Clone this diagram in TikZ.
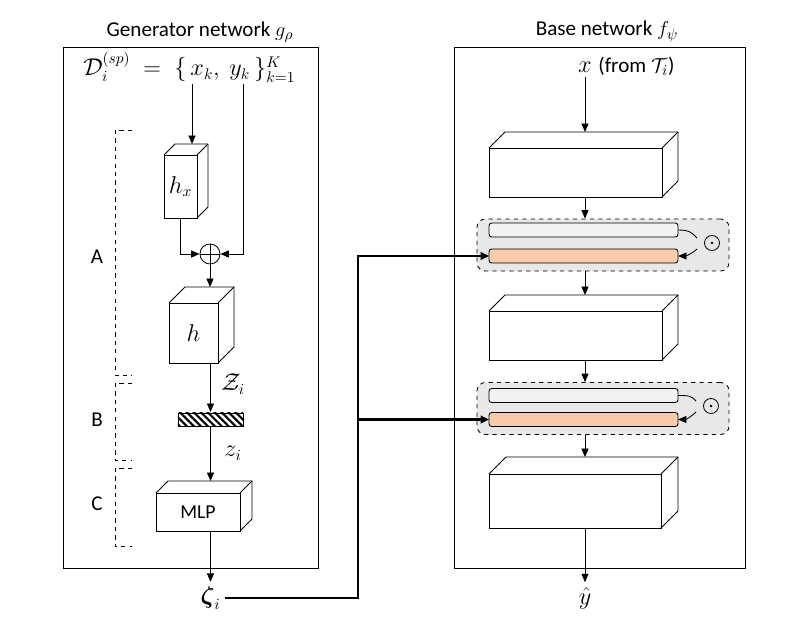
\documentclass[tikz,border=0pt]{standalone}
\usepackage{amsmath, amssymb}
\usepackage[no-math]{fontspec}
\setmainfont{Carlito}
\usetikzlibrary{arrows.meta, calc, patterns.meta, positioning}
\definecolor{peach}{HTML}{F8CBAD}
\definecolor{lightbar}{HTML}{F2F2F2}
\tikzset{
    arr/.style={-{Triangle[length=6pt,width=5pt]}, line width=0.6pt},
    thickarr/.style={-{Triangle[length=6pt,width=5.5pt]}, line width=1.8pt},
    face/.style={draw, line width=0.6pt, inner sep=0pt, outer sep=0pt, fill=white},
    layerbar/.style={draw, line width=0.6pt, rounded corners=2pt, inner sep=0pt, outer sep=0pt,
        minimum width=4.725cm, minimum height=0.35cm},
    filmbox/.style={draw, dashed, line width=0.6pt, rounded corners=6pt, fill=gray!18,
        inner sep=0pt, minimum width=6.3cm, minimum height=1.3cm},
    opcirc/.style={circle, draw, line width=0.6pt, inner sep=0pt},
    lbl/.style={font=\fontsize{15}{18}\selectfont},
    mth/.style={font=\fontsize{16}{19}\selectfont},
}
% depth faces of a box node: #1 node name, #2 depth
\newcommand{\cubeback}[2]{
    \draw[line width=0.6pt, line join=round] (#1.north west) -- ++(#2,-#2) coordinate (#1top)
        -| ($(#1.south east)+(#2,-#2)$) -- (#1.south east);
    \draw[line width=0.6pt] (#1.north east) -- ++(#2,-#2);
}

\begin{document}
\begin{tikzpicture}[x=0.025cm, y=-0.025cm]
\useasboundingbox (0,0) rectangle (785,643);

\draw[line width=0.7pt] (63,47) rectangle (318,568);
\draw[line width=0.7pt] (454,47) rectangle (745,568);
\node[lbl] (gtitle) at (200,32) {Generator network $g_\rho$};
\node[lbl] (btitle) at (607,32) {Base network $f_\psi$};

% generator
\node[mth, anchor=base west, inner sep=0pt] (dsp) at (83,76) {$\mathcal{D}_i^{(sp)}$};
\node[mth, anchor=base west, inner sep=0pt] (eqs) at (143,76) {$=$};
\node[mth, anchor=base west, inner sep=0pt] (xk) at (174,76) {$\{\,x_k,$};
\node[mth, anchor=base west, inner sep=0pt] (yk) at (229,76) {$y_k\,\}_{k=1}^{K}$};
\coordinate (xkpt) at (192,84);
\coordinate (ykpt) at (243,84);

\node[face, mth, minimum width=0.825cm, minimum height=1.575cm] (hx) at (180.5,186.5) {$h_x$};
\cubeback{hx}{11}
\node[opcirc, minimum size=0.5cm, path picture={
    \draw[line width=0.6pt] (path picture bounding box.north) -- (path picture bounding box.south)
        (path picture bounding box.west) -- (path picture bounding box.east);}] (oplus) at (210,254) {};
\node[face, mth, minimum width=1.225cm, minimum height=1.5cm] (h) at (193.5,333) {$h$};
\cubeback{h}{16}
\node[draw, line width=0.6pt, inner sep=0pt, minimum width=1.625cm, minimum height=0.325cm,
    pattern={Lines[angle=-45,distance=3.5pt,line width=1.5pt]}] (zbar) at (210.5,419.5) {};
\node[face, font=\fontsize{14}{17}\selectfont, minimum width=2.1cm, minimum height=0.95cm] (mlp) at (198,512) {MLP};
\cubeback{mlp}{12}
\node[mth] (zeta) at (210.5,598) {$\boldsymbol{\zeta}_i$};

\draw[arr] (xkpt) -- (xkpt |- hxtop);
\draw[arr] (hx.south) |- (oplus.west);
\draw[arr] (ykpt) |- (oplus.east);
\draw[arr] (oplus.south) -- (oplus.south |- htop);
\draw[arr] (h.south -| zbar) -- (zbar.north);
\node[mth] (zcal) at (233,384) {$\mathcal{Z}_i$};
\draw[arr] (zbar.south) -- (zbar.south |- mlptop);
\node[mth] (zsmall) at (233,453) {$z_i$};
\draw[arr] (mlp.south -| zeta) -- (zeta.north);

\draw[dashed, line width=0.6pt] (132,130) -| (115,375) -- (132,375);
\draw[dashed, line width=0.6pt] (132,383) -| (115,460) -- (132,460);
\draw[dashed, line width=0.6pt] (132,468) -| (115,546) -- (132,546);
\node[lbl] (secA) at (97,257) {A};
\node[lbl] (secB) at (97,420) {B};
\node[lbl] (secC) at (97,504) {C};

% base network
\node[mth] (xin) at (585,67) {$x$};
\node[lbl, anchor=base west, inner sep=1pt] (from) at (xin.base east) {(from $\mathcal{T}_i$)};
\node[face, minimum width=4.325cm, minimum height=1.225cm] (c1) at (575.5,172.5) {};
\cubeback{c1}{16}
\node[filmbox] (film1) at (603,245) {};
\node[layerbar, fill=lightbar] (g1) at (583.5,230) {};
\node[layerbar, fill=peach] (b1) at (583.5,256) {};
\node[opcirc, minimum size=0.375cm, path picture={
    \fill (path picture bounding box.center) circle (1pt);}] (dot1) at (712,243) {};
\node[face, minimum width=4.325cm, minimum height=1.225cm] (c2) at (575.5,335.5) {};
\cubeback{c2}{16}
\node[filmbox] (film2) at (603,408.5) {};
\node[layerbar, fill=lightbar] (g2) at (583.5,395.5) {};
\node[layerbar, fill=peach] (b2) at (583.5,419.5) {};
\node[opcirc, minimum size=0.375cm, path picture={
    \fill (path picture bounding box.center) circle (1pt);}] (dot2) at (711,406) {};
\node[face, minimum width=4.3cm, minimum height=1.35cm] (c3) at (575,501) {};
\cubeback{c3}{17}
\node[mth] (yhat) at (585,598) {$\hat{y}$};

\draw[arr] (xin.south) -- (xin.south |- c1top);
\draw[arr] (c1.south -| xin) -- (film1.north -| xin);
\draw[arr] (film1.south -| xin) -- (xin |- c2top);
\draw[arr] (c2.south -| xin) -- (film2.north -| xin);
\draw[arr] (film2.south -| xin) -- (xin |- c3top);
\draw[arr] (c3.south -| xin) -- (yhat.north);

\draw[line width=0.6pt] (g1.east) .. controls +(12,0) and +(-5,-5) .. ($(dot1.west)+(-7,-5)$);
\draw[arr] ($(dot1.west)+(-7,6)$) .. controls +(-4,4) and +(8,0) .. (b1.east);
\draw[line width=0.6pt] (g2.east) .. controls +(12,0) and +(-5,-5) .. ($(dot2.west)+(-7,-5)$);
\draw[arr] ($(dot2.west)+(-7,6)$) .. controls +(-4,4) and +(8,0) .. (b2.east);

\coordinate (jn) at (358,598);
\draw[thickarr] (zeta.east) -- (jn) |- (b1.west);
\draw[thickarr] (jn |- b2.west) -- (b2.west);
\end{tikzpicture}
\end{document}
